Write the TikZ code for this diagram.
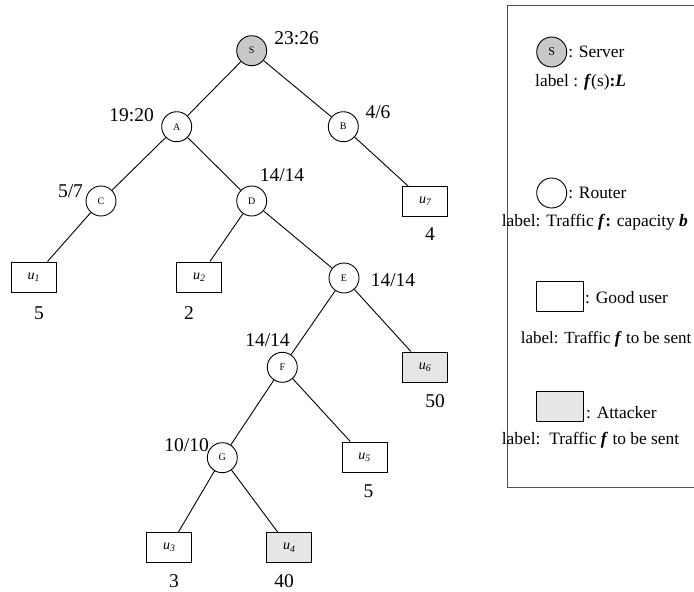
\documentclass[tikz,border=0pt]{standalone}
\usepackage{fontspec}
\setmainfont{Liberation Serif}
\usetikzlibrary{positioning}
\definecolor{srvgray}{HTML}{C8C8C8}
\definecolor{atkgray}{HTML}{E6E6E6}
\definecolor{framegray}{HTML}{505050}
\tikzset{
  router/.style={circle,draw,line width=0.9pt,fill=white,minimum size=30pt,inner sep=0pt,font=\fontsize{10}{12}\selectfont},
  server/.style={router,fill=srvgray},
  user/.style={rectangle,draw,line width=0.9pt,fill=white,minimum width=45pt,minimum height=30pt,inner sep=0pt,font=\fontsize{14}{16}\selectfont\itshape},
  attacker/.style={user,fill=atkgray},
  flow/.style={inner sep=0pt,font=\fontsize{19.5}{22}\selectfont},
  legtext/.style={anchor=west,inner sep=0pt,font=\fontsize{17.4}{20}\selectfont},
  link/.style={line width=0.9pt},
}
\newcommand{\usr}[1]{u\textsubscript{#1}}

\begin{document}
\begin{tikzpicture}[x=1pt,y=-1pt]
\useasboundingbox (0,0) rectangle (694,592);

% routers and server
\node[server] (S) at (251.7,50.7) {S};
\node[router] (A) at (176.7,126.7) {A};
\node[router] (B) at (343.3,126.7) {B};
\node[router] (C) at (101,201) {C};
\node[router] (D) at (251.7,201) {D};
\node[router] (E) at (344,278) {E};
\node[router] (F) at (282.3,367.3) {F};
\node[router] (G) at (222.3,457.7) {G};

% users
\node[user] (u1) at (33.8,277) {\usr{1}};
\node[user] (u2) at (199.2,277) {\usr{2}};
\node[user] (u7) at (425.2,201.7) {\usr{7}};
\node[attacker] (u6) at (425,367) {\usr{6}};
\node[user] (u5) at (364.5,457) {\usr{5}};
\node[user] (u3) at (169.2,547.7) {\usr{3}};
\node[attacker] (u4) at (289.3,547.7) {\usr{4}};

\foreach \p/\c in {S/A,S/B,A/C,A/D,B/u7,C/u1,D/u2,D/E,E/F,E/u6,F/G,F/u5,G/u3,G/u4}
  \draw[link] (\p) -- (\c);

% traffic labels
\node[flow] (fS) at (296.7,38) {23:26};
\node[flow] (fA) at (131.7,115) {19:20};
\node[flow] (fB) at (378,112) {4/6};
\node[flow] (fC) at (70.5,191) {5/7};
\node[flow] (fD) at (282,175) {14/14};
\node[flow] (fE) at (393,280) {14/14};
\node[flow] (fF) at (267.5,340) {14/14};
\node[flow] (fG) at (186.7,445) {10/10};
\node[flow] (f1) at (39,313) {5};
\node[flow] (f2) at (189,313) {2};
\node[flow] (f7) at (430,234) {4};
\node[flow] (f6) at (435,401) {50};
\node[flow] (f5) at (368.5,491) {5};
\node[flow] (f3) at (174,581) {3};
\node[flow] (f4) at (284,581) {40};

% legend
\draw[framegray,line width=1.3pt] (507.7,5.3) rectangle (720,487.7);
\node[server,font=\fontsize{12}{14}\selectfont] (lgS) at (551.7,52) {S};
\node[legtext] (lgSt) at ([xshift=1pt]lgS.east) {: Server};
\node[legtext] (lgSl) at (535,82) {label : \textbf{\textit{f}}(s)\textbf{:}\textbf{\textit{L}}};
\node[router] (lgR) at (551.7,193) {};
\node[legtext] (lgRt) at ([xshift=1pt]lgR.east) {: Router};
\node[legtext] (lgRl) at (501.7,222) {label: Traffic \textbf{\textit{f}}\textbf{:} capacity \textbf{\textit{b}}};
\node[user,minimum width=46.6pt] (lgU) at (560,296.7) {};
\node[legtext] (lgUt) at (585,298) {: Good user};
\node[legtext,font=\fontsize{17}{20}\selectfont] (lgUl) at (520.7,339) {label: Traffic \textbf{\textit{f}} to be sent};
\node[attacker,minimum width=46.6pt] (lgX) at (560,406.7) {};
\node[legtext] (lgXt) at (586,413) {: Attacker};
\node[legtext] (lgXl) at (501.7,440.7) {label:\ \ Traffic \textbf{\textit{f}} to be sent};
\end{tikzpicture}
\end{document}
